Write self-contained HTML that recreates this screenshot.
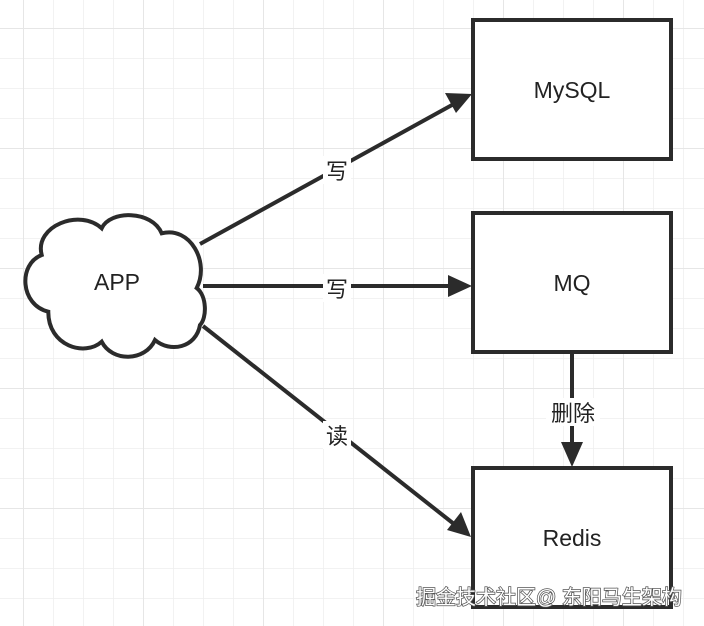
<!DOCTYPE html>
<html><head><meta charset="utf-8"><style>
html,body{margin:0;padding:0;background:#fff;}
svg{display:block;}
text{font-family:"Liberation Sans","Noto Sans CJK SC",sans-serif;fill:#222;}
</style></head><body>
<svg width="704" height="626" viewBox="0 0 704 626" xmlns="http://www.w3.org/2000/svg">
<defs>
<pattern id="g" x="23" y="28" width="30" height="30" patternUnits="userSpaceOnUse">
<path d="M0 0H30M0 0V30" stroke="#eeeeee" stroke-width="1.5" fill="none"/>
</pattern>
<pattern id="G" x="23" y="28" width="120" height="120" patternUnits="userSpaceOnUse">
<path d="M0 0H120M0 0V120" stroke="#e6e6e6" stroke-width="2" fill="none"/>
</pattern>
</defs>
<rect width="704" height="626" fill="url(#g)"/>
<rect width="704" height="626" fill="url(#G)"/>
<g stroke="#2b2b2b" stroke-width="4" fill="none">
<line x1="200" y1="244" x2="452" y2="105"/>
<line x1="203" y1="286" x2="450" y2="286"/>
<line x1="203" y1="326" x2="454" y2="524"/>
<line x1="572" y1="353" x2="572" y2="445"/>
</g>
<g fill="#2b2b2b">
<polygon points="472,94 445,93 456,113"/>
<polygon points="472,286 448,275 448,297"/>
<polygon points="471,537 461,512 447,530"/>
<polygon points="572,467 561,442 583,442"/>
</g>
<path d="M101.7,228.3 C110,210 152,210 161.7,233.3 C190,226 210,262 196.7,288 C207,296 207,318 200,325 C196,348 170,353 155,340 C145,362 112,362 101.7,341.7 C85,357 48,346 48.3,311.7 C20,305 18,264 41.7,255 C34,226 80,208 101.7,228.3 Z" fill="#fff" stroke="#2b2b2b" stroke-width="4"/>
<g fill="#fff" stroke="#2b2b2b" stroke-width="4">
<rect x="473" y="20" width="198" height="139"/>
<rect x="473" y="213" width="198" height="139"/>
<rect x="473" y="468" width="198" height="139"/>
</g>
<g font-size="23" text-anchor="middle">
<text x="117" y="290">APP</text>
<text x="572" y="98">MySQL</text>
<text x="572" y="291">MQ</text>
<text x="572" y="546">Redis</text>
</g>
<g font-size="22" text-anchor="middle">
<rect x="323" y="156" width="28" height="28" fill="#fff"/>
<text x="337" y="179">写</text>
<rect x="323" y="274" width="28" height="28" fill="#fff"/>
<text x="337" y="297">写</text>
<rect x="323" y="421" width="28" height="28" fill="#fff"/>
<text x="337" y="444">读</text>
<rect x="546" y="398" width="54" height="28" fill="#fff"/>
<text x="573" y="421">删除</text>
</g>
<text x="549" y="604" font-size="20" text-anchor="middle" style="fill:#fff;stroke:#555;stroke-width:1.5;paint-order:stroke">掘金技术社区@ 东阳马生架构</text>
</svg>
</body></html>
